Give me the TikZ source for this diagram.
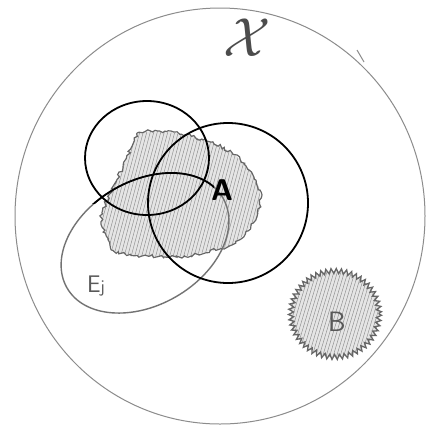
\documentclass[tikz,border=0pt]{standalone}
\usetikzlibrary{decorations.pathmorphing}
\begin{document}
\begin{tikzpicture}[x=1pt,y=-1pt,
  outer/.style={draw=black!45,line width=1pt},
  setline/.style={draw=black,line width=1.8pt},
  grayset/.style={draw=black!55,line width=1.4pt},
  hatch/.style={draw=black!45,line width=0.45pt},
  lbl/.style={inner sep=0pt,text=black!65}]
\pgfmathsetseed{7}
\useasboundingbox (0,0) rectangle (438,434);
\fill[white] (0,0) rectangle (438,434);
% universe
\draw[outer] (220,216) ellipse [x radius=205, y radius=208];
\coordinate (tick1) at (357,50);
\coordinate (tick2) at (364,62);
\draw[outer] (tick1) -- (tick2);
\node[lbl,text=black!70] (X) at (247,38) {\scalebox{5.5}{$\mathcal{X}$}};
% set A (shaded, fuzzy border)
\def\Apath{(137,133) .. controls (160,128) and (190,135) .. (203,140)
  .. controls (225,146) and (250,160) .. (260,190)
  .. controls (262,205) and (258,218) .. (253,223)
  .. controls (245,235) and (235,245) .. (227,247)
  .. controls (205,252) and (185,258) .. (170,257)
  .. controls (140,256) and (118,255) .. (113,250)
  .. controls (105,235) and (100,222) .. (102,213)
  .. controls (108,195) and (118,178) .. (123,167)
  .. controls (127,158) and (130,150) .. (137,133) -- cycle}
\begin{scope}
  \clip \Apath;
  \fill[black!10] (90,110) rectangle (270,270);
  \foreach \i in {0,3.5,...,240}{
    \draw[hatch] (40+\i,270) -- (80+\i,120);
  }
\end{scope}
\draw[draw=black!60,line width=1.2pt,decorate,
  decoration={random steps,segment length=2.5pt,amplitude=1.6pt}] \Apath;
% set B (shaded, spiky border)
\begin{scope}
  \clip (335,314) ellipse [x radius=44, y radius=43];
  \fill[black!10] (285,265) rectangle (385,365);
  \foreach \i in {0,3.5,...,160}{
    \draw[hatch] (250+\i,365) -- (280+\i,265);
  }
\end{scope}
\draw[draw=black!60,line width=1.3pt,decorate,
  decoration={zigzag,segment length=5pt,amplitude=2.5pt}]
  (335,314) ellipse [x radius=44, y radius=43];
% covering sets
\draw[grayset,rotate around={30:(145,243)}] (145,243) ellipse [x radius=90, y radius=62];
\begin{scope}
  \clip (92,150) rectangle (214,203);
  \draw[setline,rotate around={30:(145,243)}] (145,243) ellipse [x radius=90, y radius=62];
\end{scope}
\draw[setline] (147,158) ellipse [x radius=62, y radius=57];
\draw[setline] (228,203) ellipse [x radius=80, y radius=80];
% labels
\node[lbl,text=black,font=\sffamily\bfseries\fontsize{30}{30}\selectfont] (A) at (222,190) {A};
\node[lbl,font=\sffamily\fontsize{28}{28}\selectfont] (B) at (337,322) {B};
\node[lbl,font=\sffamily\fontsize{24}{24}\selectfont] (E) at (96,286) {E{\fontsize{18}{18}\selectfont j}};
\end{tikzpicture}
\end{document}
